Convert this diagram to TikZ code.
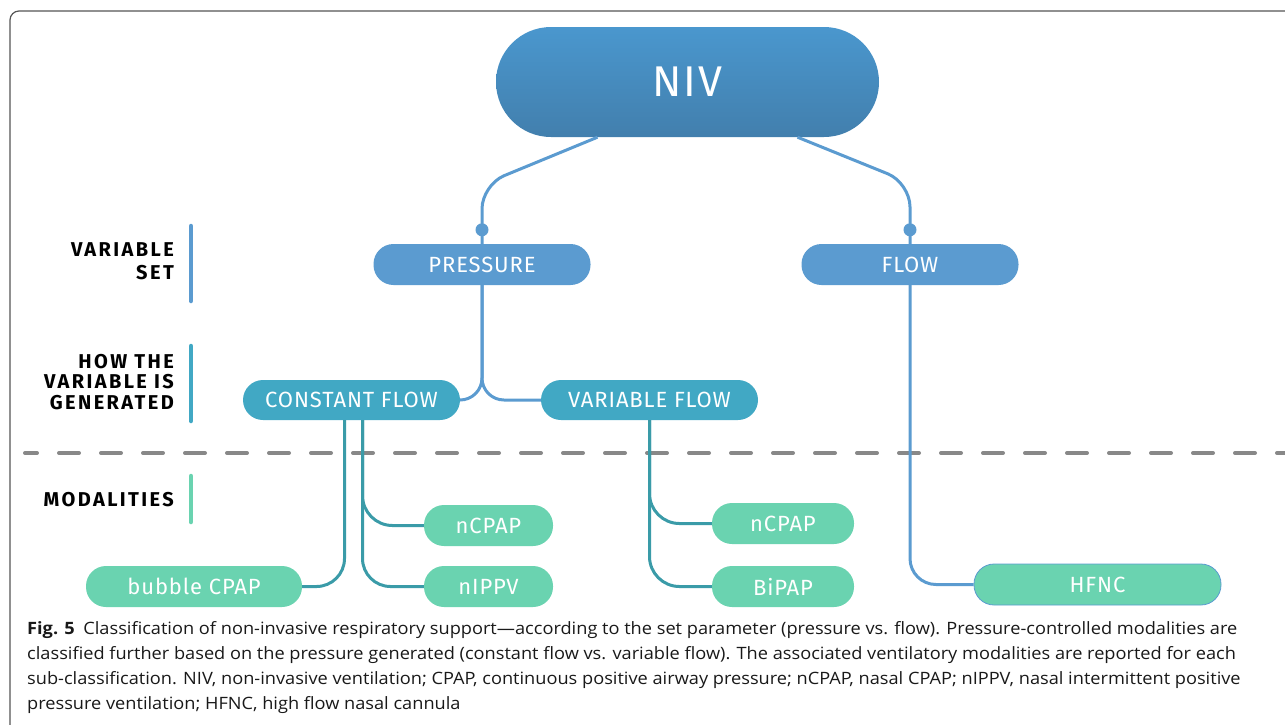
\documentclass[tikz,border=0pt]{standalone}
\usepackage{fontspec}
\setmainfont[FakeStretch=1.07]{Open Sans}
\newfontfamily\boxfont[LetterSpace=4]{Fira Sans}
\newfontfamily\tagfont[LetterSpace=12]{Fira Sans}
\usetikzlibrary{calc}

\definecolor{nivtop}{HTML}{4A97CE}
\definecolor{nivbot}{HTML}{427FAD}
\definecolor{setblue}{HTML}{5B9BD0}
\definecolor{genteal}{HTML}{41A8C4}
\definecolor{genline}{HTML}{3A9BA8}
\definecolor{modgreen}{HTML}{6AD3B0}
\definecolor{dashgray}{HTML}{888888}
\definecolor{framegray}{HTML}{555555}

\tikzset{
  pill/.style={rounded corners=20pt, text=white, inner sep=0pt,
    font=\boxfont\fontsize{22}{22}\selectfont},
  setbox/.style={pill, fill=setblue, minimum width=217pt, minimum height=41pt},
  genbox/.style={pill, fill=genteal, minimum width=217pt, minimum height=40pt},
  modbox/.style={pill, fill=modgreen, minimum height=41pt},
  setline/.style={draw=setblue, line width=3pt},
  genline/.style={draw=genline, line width=3pt},
  levelbar/.style={line width=4.5pt, line cap=round},
  leveltag/.style={anchor=east, align=right, inner sep=0pt,
    font=\tagfont\bfseries\fontsize{20}{20.5}\selectfont}
}

\begin{document}
\begin{tikzpicture}[x=1pt, y=-1pt]
    \useasboundingbox (0,0) rectangle (1285,724);
    \clip (0,0) rectangle (1285,724);

    % Rahmen
    \draw[framegray, line width=1.2pt, rounded corners=9pt] (10,11) rectangle (1320,760);

    % Ebenen links
    \node[leveltag, font=\tagfont\bfseries\fontsize{20}{23}\selectfont] (tagset) at (174,261.5) {VARIABLE\\SET};
    \draw[levelbar, setblue] (191,226) -- (191,301);

    \node[leveltag] (taggen) at (174,382) {HOW THE\\VARIABLE IS\\GENERATED};
    \draw[levelbar, genteal] (191,346) -- (191,421);

    \node[leveltag] (tagmod) at (174,500) {MODALITIES};
    \draw[levelbar, modgreen] (191,476) -- (191,522);

    % Trennlinie
    \draw[dashgray, line width=4pt, line cap=round, dash pattern=on 20pt off 22pt, dash phase=8pt]
        (25,453) -- (1285,453);

    % Knoten
    \node[pill, rounded corners=55pt, minimum width=383pt, minimum height=110pt,
          top color=nivtop, bottom color=nivbot,
          font=\boxfont\fontsize{43}{43}\selectfont] (niv) at (687.5,82) {NIV};

    \node[setbox] (pres) at (482,264.5) {PRESSURE};
    \node[setbox] (flow) at (910,264.5) {FLOW};

    \node[genbox] (const) at (351.5,400) {CONSTANT FLOW};
    \node[genbox] (var) at (649.5,400) {VARIABLE FLOW};

    \node[modbox, minimum width=216pt] (bubble) at (194,586.5) {bubble CPAP};
    \node[modbox, minimum width=129pt] (ncpapc) at (488.5,525.5) {nCPAP};
    \node[modbox, minimum width=129pt] (nippv) at (488.5,586.5) {nIPPV};
    \node[modbox, minimum width=142pt] (ncpapv) at (783,523.5) {nCPAP};
    \node[modbox, minimum width=142pt] (bipap) at (783,586.5) {BiPAP};
    \node[modbox, minimum width=247pt, draw=setblue, line width=0.8pt] (hfnc) at (1097.5,584.5) {HFNC};

    % NIV -> Parameter
    \draw[setline, rounded corners=24pt] ([xshift=-90pt]niv.south) -- ([yshift=59pt]pres.north) -- (pres.north);
    \draw[setline, rounded corners=24pt] ([xshift=110pt]niv.south) -- ([yshift=61pt]flow.north) -- (flow.north);
    \fill[setblue] ([yshift=14pt]pres.north) circle (6.5pt);
    \fill[setblue] ([yshift=14pt]flow.north) circle (6.5pt);

    % PRESSURE -> Erzeugung
    \draw[setline, rounded corners=22pt] (pres.south) |- (const.east);
    \draw[setline, rounded corners=22pt] (pres.south) |- (var.west);

    % Erzeugung -> Modalitaeten
    \draw[genline, rounded corners=28pt] ([xshift=-7pt]const.south) |- (bubble.east);
    \draw[genline, rounded corners=30pt] ([xshift=11pt]const.south) |- (ncpapc.west);
    \draw[genline, rounded corners=28pt] ([xshift=11pt]const.south) |- (nippv.west);
    \draw[genline, rounded corners=30pt] (var.south) |- (ncpapv.west);
    \draw[genline, rounded corners=30pt] (var.south) |- (bipap.west);
    \draw[setline, rounded corners=26pt] (flow.south) |- (hfnc.west);

    % Legende
    \node[anchor=north west, align=left, inner sep=0pt, text=black!90,
          font=\fontsize{17}{25}\selectfont] (caption) at (27,621)
        {\textbf{Fig. 5}\enspace Classification of non-invasive respiratory support—according to the set parameter (pressure vs. flow). Pressure-controlled modalities are\\
         classified further based on the pressure generated (constant flow vs. variable flow). The associated ventilatory modalities are reported for each\\
         sub-classification. NIV, non-invasive ventilation; CPAP, continuous positive airway pressure; nCPAP, nasal CPAP; nIPPV, nasal intermittent positive\\
         pressure ventilation; HFNC, high flow nasal cannula};
\end{tikzpicture}
\end{document}
